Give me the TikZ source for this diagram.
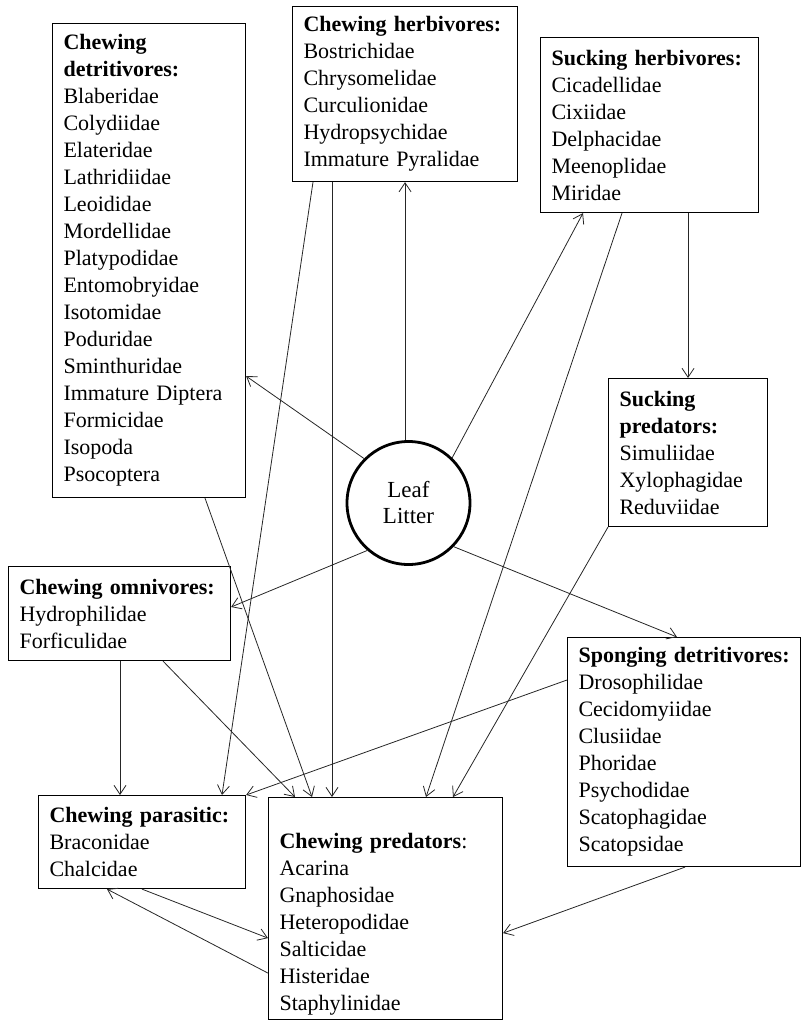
\documentclass[tikz,border=0pt]{standalone}
\usepackage{fontspec}
\setmainfont{Liberation Serif}
\usetikzlibrary{arrows.meta}

\begin{document}
\begin{tikzpicture}[x=1pt,y=-1pt,
	grp/.style={draw, line width=1.1pt, rectangle, anchor=north west, align=left,
		inner xsep=11pt, inner ysep=0pt, font=\fontsize{22}{27}\selectfont},
	link/.style={-{Straight Barb[length=9pt,width=12pt]}, line width=0.8pt, black!85}]

	\useasboundingbox (0,0) rectangle (801,1021);

	% feeding groups
	\node[grp, text width=171pt, minimum height=474pt] (detr) at (52,23)
		{\textbf{Chewing}\\\textbf{detritivores:}\\Blaberidae\\Colydiidae\\Elateridae\\Lathridiidae\\Leoididae\\Mordellidae\\Platypodidae\\Entomobryidae\\Isotomidae\\Poduridae\\Sminthuridae\\Immature Diptera\\Formicidae\\Isopoda\\Psocoptera};
	\node[grp, text width=203pt, minimum height=175pt] (cherb) at (292,6)
		{\textbf{Chewing herbivores:}\\Bostrichidae\\Chrysomelidae\\Curculionidae\\Hydropsychidae\\Immature Pyralidae};
	\node[grp, text width=196pt, minimum height=175pt] (sherb) at (540,37)
		{\textbf{Sucking herbivores:}\\Cicadellidae\\Cixiidae\\Delphacidae\\Meenoplidae\\Miridae};
	\node[grp, text width=137pt, minimum height=148pt] (spred) at (608,378)
		{\textbf{Sucking}\\\textbf{predators:}\\Simuliidae\\Xylophagidae\\Reduviidae};
	\node[grp, text width=200pt, minimum height=94pt] (omni) at (8,566)
		{\textbf{Chewing omnivores:}\\Hydrophilidae\\Forficulidae};
	\node[grp, text width=185pt, minimum height=93pt] (para) at (38,795)
		{\textbf{Chewing parasitic:}\\Braconidae\\Chalcidae};
	\node[grp, text width=212pt, minimum height=222pt] (cpred) at (268,797)
		{\strut\\\textbf{Chewing predators}:\\Acarina\\Gnaphosidae\\Heteropodidae\\Salticidae\\Histeridae\\Staphylinidae};
	\node[grp, text width=211pt, minimum height=229pt] (spong) at (567,637)
		{\mbox{\textbf{Sponging detritivores:}}\\Drosophilidae\\Cecidomyiidae\\Clusiidae\\Phoridae\\Psychodidae\\Scatophagidae\\Scatopsidae};

	\node[circle, draw, line width=2.8pt, minimum size=123pt, inner sep=0pt, align=center,
		font=\fontsize{23}{26}\selectfont] (leaf) at (408.5,503) {Leaf\\Litter};

	% from the litter
	\draw[link] (leaf.135) -- ([yshift=122pt]detr.south east);
	\draw[link] (cherb.south |- leaf.north) -- (cherb.south);
	\draw[link] (leaf.46) -- ([xshift=43pt]sherb.south west);
	\draw[link] (leaf.-44) -- ([xshift=110pt]spong.north west);
	\draw[link] (leaf.229) -- ([yshift=-41pt]omni.north east);

	% between groups
	\draw[link] (sherb.south -| spred.north) -- (spred.north);
	\draw[link] ([xshift=82pt]sherb.south west) -- ([xshift=158pt]cpred.north west);
	\draw[link] (spred.south west) -- ([xshift=185pt]cpred.north west);
	\draw[link] ([yshift=-43pt]spong.north west) -- (para.north east);
	\draw[link] ([xshift=118pt]spong.south west) -- ([yshift=87pt]cpred.south east);
	\draw[link] ([xshift=112pt]omni.south west) -- ([xshift=82pt]para.north west);
	\draw[link] ([xshift=155pt]omni.south west) -- ([xshift=27pt]cpred.north west);
	\draw[link] ([xshift=153pt]detr.south west) -- ([xshift=44pt]cpred.north west);
	\draw[link] ([xshift=21pt]cherb.south west) -- ([xshift=184pt]para.north west);
	\draw[link] ([xshift=40pt]cherb.south west) -- ([xshift=64pt]cpred.north west);
	\draw[link] ([xshift=104pt]para.south west) -- ([yshift=82pt]cpred.south west);
	\draw[link] ([yshift=47pt]cpred.south west) -- ([xshift=69pt]para.south west);

\end{tikzpicture}
\end{document}
